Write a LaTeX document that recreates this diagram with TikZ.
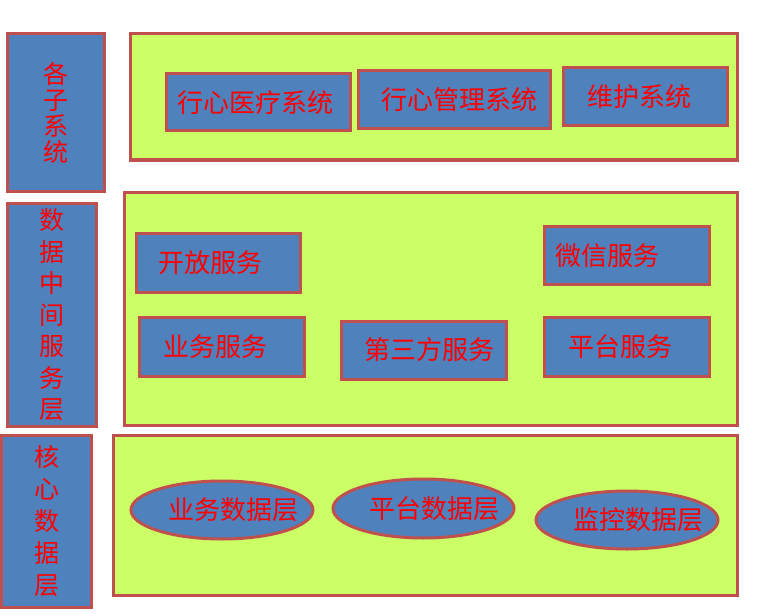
\documentclass[tikz,border=0pt]{standalone}
\usepackage{fontspec}
\setmainfont{Noto Sans CJK SC}
\usepackage{tikz}
\usetikzlibrary{shapes.geometric}
\definecolor{boxblue}{RGB}{79,129,189}
\definecolor{edgered}{RGB}{192,80,77}
\definecolor{panelgreen}{RGB}{204,255,102}
\definecolor{textred}{RGB}{255,0,0}
\tikzset{
  basebox/.style={
    draw=edgered,line width=3bp,inner sep=0pt,text=textred,
    font=\fontsize{25bp}{26bp}\selectfont
  },
  layerbox/.style={basebox,fill=boxblue,align=center},
  panel/.style={basebox,fill=panelgreen},
  svcbox/.style={basebox,fill=boxblue,rectangle},
  dataell/.style={basebox,fill=boxblue,ellipse},
  svctext/.style={text=textred,font=\fontsize{26bp}{28bp}\selectfont,inner sep=0pt}
}
\begin{document}
\begin{tikzpicture}[x=1bp,y=-1bp]
  \useasboundingbox (0,0) rectangle (758,614);
  % layer panels
  \node[panel,minimum width=606bp,minimum height=126bp] (subpanel) at (434,97) {};
  \node[panel,minimum width=612bp,minimum height=232bp] (midpanel) at (431,309) {};
  \node[panel,minimum width=623bp,minimum height=160bp] (corepanel) at (425.5,515) {};
  % layer titles
  \node[layerbox,minimum width=96bp,minimum height=157bp] (subtitle) at (56,112.5) {各\\子\\系\\统};
  \node[layerbox,minimum width=88bp,minimum height=222bp,
    font=\fontsize{25bp}{31.5bp}\selectfont] (midtitle) at (52,315) {数\\据\\中\\间\\服\\务\\层};
  \node[layerbox,minimum width=89bp,minimum height=172bp,
    font=\fontsize{25bp}{32bp}\selectfont] (coretitle) at (46.5,521) {核\\心\\数\\据\\层};
  % subsystems
  \node[svcbox,minimum width=184bp,minimum height=57bp,
    label={[svctext,xshift=-3bp]center:行心医疗系统}] (medsys) at (258,102.5) {};
  \node[svcbox,minimum width=192bp,minimum height=58bp,
    label={[svctext,xshift=5bp]center:行心管理系统}] (mgmtsys) at (454,100) {};
  \node[svcbox,minimum width=164bp,minimum height=58bp,
    label={[svctext,xshift=-6bp]center:维护系统}] (maintsys) at (645,97) {};
  % middle services
  \node[svcbox,minimum width=164bp,minimum height=59bp,
    label={[svctext,xshift=-8bp]center:开放服务}] (opensvc) at (218,262.5) {};
  \node[svcbox,minimum width=165bp,minimum height=57bp,
    label={[svctext,xshift=-19bp]center:微信服务}] (wechatsvc) at (626.5,255.5) {};
  \node[svcbox,minimum width=165bp,minimum height=59bp,
    label={[svctext,xshift=-6bp]center:业务服务}] (bizsvc) at (221.5,346.5) {};
  \node[svcbox,minimum width=165bp,minimum height=58bp,
    label={[svctext,xshift=6bp]center:第三方服务}] (thirdsvc) at (423.5,350) {};
  \node[svcbox,minimum width=165bp,minimum height=59bp,
    label={[svctext,xshift=-6bp]center:平台服务}] (platsvc) at (626.5,346.5) {};
  % core data
  \node[dataell,minimum width=182bp,minimum height=58bp,
    label={[svctext,xshift=11bp]center:业务数据层}] (bizdata) at (222,510) {};
  \node[dataell,minimum width=181bp,minimum height=59bp,
    label={[svctext,xshift=11bp]center:平台数据层}] (platdata) at (423.5,508.5) {};
  \node[dataell,minimum width=182bp,minimum height=58bp,
    label={[svctext,xshift=11bp]center:监控数据层}] (mondata) at (627,520) {};
\end{tikzpicture}
\end{document}
